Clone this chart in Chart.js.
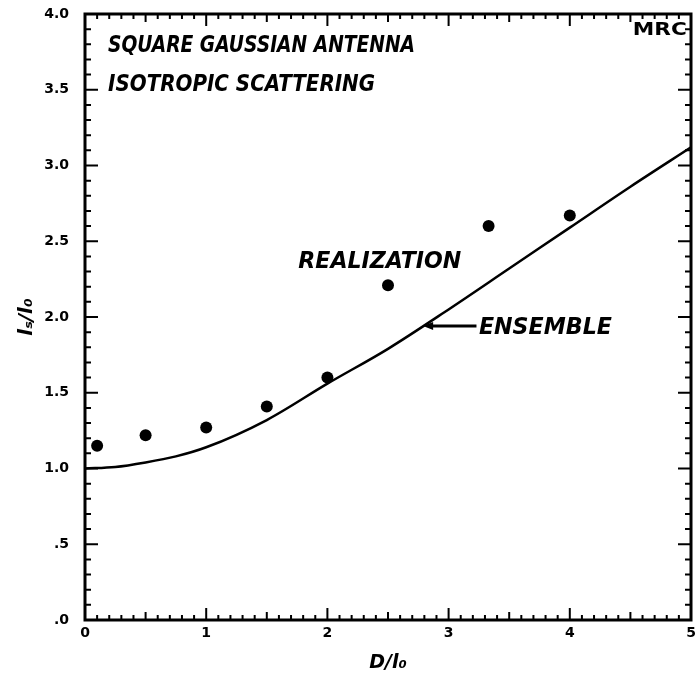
<!DOCTYPE html>
<html>
<head>
<meta charset="utf-8">
<script src="https://cdn.jsdelivr.net/npm/chart.js@4/dist/chart.umd.min.js"></script>
<style>
html,body{margin:0;padding:0;background:#fff;}
canvas{display:block;}
</style>
</head>
<body>
<canvas id="c" width="697" height="678"></canvas>
<script>
// ---- data ----
const xCurve = [0, 0.25, 0.5, 0.75, 1.0, 1.5, 2.0, 2.5, 3.0, 3.5, 4.0, 4.5, 5.0];
const ensemble = [1.00, 1.01, 1.04, 1.08, 1.14, 1.32, 1.56, 1.79, 2.05, 2.32, 2.59, 2.86, 3.12];
const xReal = [0.1, 0.5, 1.0, 1.5, 2.0, 2.5, 3.33, 4.0];
const realization = [1.15, 1.22, 1.27, 1.41, 1.60, 2.21, 2.60, 2.67];
const xTickLabels = ['0', '1', '2', '3', '4', '5'];
const yTickLabels = ['.0', '.5', '1.0', '1.5', '2.0', '2.5', '3.0', '3.5', '4.0'];
const titleLines = ['SQUARE GAUSSIAN ANTENNA', 'ISOTROPIC SCATTERING'];
const realizationLabel = 'REALIZATION';
const ensembleLabel = 'ENSEMBLE';
const logoLabel = 'MRC';
const xTitle = 'D/l\u2080';
const yTitle = 'l\u209B/l\u2080';

const LABEL_FONT = 'bold italic 23px "DejaVu Sans"';

function fitText(ctx, text, x, y, width, font) {
  ctx.save();
  ctx.font = font;
  const w = ctx.measureText(text).width;
  ctx.translate(x, y);
  ctx.scale(width / w, 1);
  ctx.textAlign = 'left';
  ctx.textBaseline = 'middle';
  ctx.fillStyle = '#000';
  ctx.fillText(text, 0, 0);
  ctx.restore();
}

const decorPlugin = {
  id: 'decor',
  afterDatasetsDraw(chart) {
    const {ctx, chartArea: a, scales: {x, y}} = chart;
    ctx.save();
    ctx.strokeStyle = '#000';
    ctx.lineWidth = 3;
    ctx.strokeRect(a.left, a.top, a.right - a.left, a.bottom - a.top);
    ctx.lineWidth = 2;
    ctx.beginPath();
    for (let i = 0; i <= 50; i++) {
      const px = x.getPixelForValue(i / 10);
      const len = (i % 10 === 0) ? 12 : (i % 5 === 0 ? 8 : 5);
      ctx.moveTo(px, a.bottom); ctx.lineTo(px, a.bottom - len);
      ctx.moveTo(px, a.top); ctx.lineTo(px, a.top + len);
    }
    for (let i = 0; i <= 40; i++) {
      const py = y.getPixelForValue(i / 10);
      const len = (i % 5 === 0) ? 13 : 6;
      ctx.moveTo(a.left, py); ctx.lineTo(a.left + len, py);
      ctx.moveTo(a.right, py); ctx.lineTo(a.right - len, py);
    }
    ctx.stroke();

    fitText(ctx, titleLines[0], x.getPixelForValue(0.19), y.getPixelForValue(3.79), 307, LABEL_FONT);
    fitText(ctx, titleLines[1], x.getPixelForValue(0.19), y.getPixelForValue(3.53), 267, LABEL_FONT);
    fitText(ctx, realizationLabel, x.getPixelForValue(1.76), y.getPixelForValue(2.36), 163, LABEL_FONT);
    fitText(ctx, ensembleLabel, x.getPixelForValue(3.25), y.getPixelForValue(1.93), 133, LABEL_FONT);
    fitText(ctx, logoLabel, x.getPixelForValue(4.52), y.getPixelForValue(3.89), 54, 'bold 18px "DejaVu Sans"');

    const tipX = x.getPixelForValue(2.79), tipY = y.getPixelForValue(1.94);
    const tailX = x.getPixelForValue(3.23);
    ctx.lineWidth = 3;
    ctx.beginPath();
    ctx.moveTo(tailX, tipY); ctx.lineTo(tipX + 6, tipY);
    ctx.stroke();
    ctx.fillStyle = '#000';
    ctx.beginPath();
    ctx.moveTo(tipX, tipY);
    ctx.lineTo(tipX + 10, tipY - 4);
    ctx.lineTo(tipX + 10, tipY + 4);
    ctx.closePath();
    ctx.fill();
    ctx.restore();
  }
};

new Chart(document.getElementById('c'), {
  type: 'scatter',
  data: {
    datasets: [
      {
        label: 'ENSEMBLE',
        data: xCurve.map((v, i) => ({x: v, y: ensemble[i]})),
        showLine: true,
        borderColor: '#000',
        borderWidth: 2.5,
        pointRadius: 0,
        cubicInterpolationMode: 'monotone',
        fill: false
      },
      {
        label: 'REALIZATION',
        data: xReal.map((v, i) => ({x: v, y: realization[i]})),
        showLine: false,
        pointRadius: 6,
        pointBackgroundColor: '#000',
        pointBorderColor: '#000',
        pointBorderWidth: 0
      }
    ]
  },
  options: {
    responsive: false,
    animation: false,
    layout: {padding: {top: 14, right: 2, left: 0, bottom: 0}},
    plugins: {legend: {display: false}, tooltip: {enabled: false}},
    scales: {
      x: {
        type: 'linear', min: 0, max: 5,
        grid: {display: false, drawTicks: false},
        border: {display: false},
        ticks: {
          stepSize: 1, padding: 5, color: '#000',
          font: {family: 'DejaVu Sans', weight: 'bold', size: 14},
          callback: (v) => xTickLabels[Math.round(v)]
        },
        title: {
          display: true, text: xTitle, color: '#000',
          font: {family: 'DejaVu Sans', weight: 'bold', style: 'italic', size: 19},
          padding: {top: 0, bottom: 4}
        },
        afterFit: (s) => { s.height = 58; s.paddingLeft = 0; s.paddingRight = 0; }
      },
      y: {
        type: 'linear', min: 0, max: 4,
        grid: {display: false, drawTicks: false},
        border: {display: false},
        ticks: {
          stepSize: 0.5, padding: 16, color: '#000',
          font: {family: 'DejaVu Sans', weight: 'bold', size: 14},
          callback: (v) => yTickLabels[Math.round(v * 2)]
        },
        title: {
          display: true, text: yTitle, color: '#000',
          font: {family: 'DejaVu Sans', weight: 'bold', style: 'italic', size: 20},
          padding: {top: 15, bottom: 0}
        },
        afterFit: (s) => { s.width = 85; s.paddingTop = 0; s.paddingBottom = 0; }
      }
    }
  },
  plugins: [decorPlugin]
});
</script>
</body>
</html>
